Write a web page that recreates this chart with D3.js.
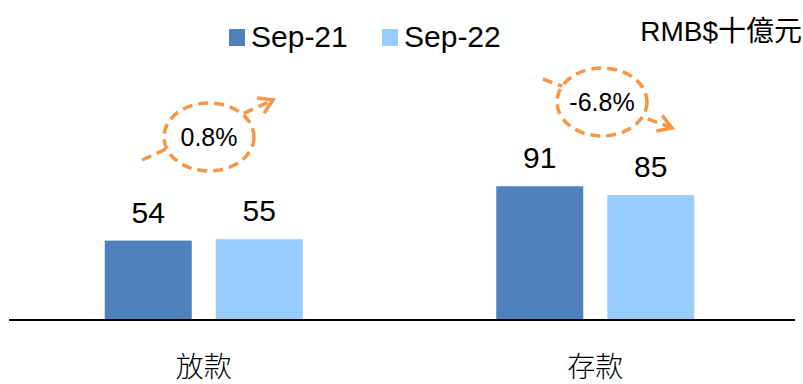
<!DOCTYPE html>
<html><head><meta charset="utf-8">
<script src="https://cdn.jsdelivr.net/npm/d3@7"></script>
<style>body{margin:0;background:#fff}svg{display:block}</style>
</head><body>
<script>
const categories = ["放款", "存款"];
const seriesNames = ["Sep-21", "Sep-22"];
const sep21 = [54, 91];
const sep22 = [55, 85];
const changes = ["0.8%", "-6.8%"];
const unitLabel = "RMB$十億元";

const W = 803, H = 384;
const colors = ["#4F81BD", "#99CCFF"];
const orange = "#F79646";
const svg = d3.select("body").append("svg").attr("width", W).attr("height", H);

const x = d3.scaleBand().domain(categories).range([8, 791]);
const inner = d3.scaleBand().domain(seriesNames).range([0, 198]).paddingInner(0.216);
const y = d3.scaleLinear().domain([0, 100]).range([320, 173]);

const data = categories.map((c, i) => ({cat: c, vals: [sep21[i], sep22[i]]}));
const g = svg.selectAll("g.grp").data(data).enter().append("g")
  .attr("transform", d => `translate(${x(d.cat) + x.bandwidth()/2 - 99},0)`);
g.selectAll("rect").data(d => d.vals.map((v, j) => ({v, s: seriesNames[j], j})))
  .enter().append("rect")
  .attr("x", d => inner(d.s)).attr("width", inner.bandwidth())
  .attr("y", d => y(d.v)).attr("height", d => y(0) - y(d.v))
  .attr("fill", d => colors[d.j]);
g.selectAll("text.val").data(d => d.vals.map((v, j) => ({v, s: seriesNames[j]})))
  .enter().append("text")
  .attr("x", d => inner(d.s) + inner.bandwidth()/2)
  .attr("y", d => y(d.v) - 18)
  .attr("text-anchor", "middle")
  .style("font-family", "Liberation Sans, Arial, sans-serif").style("font-size", "30px")
  .text(d => d.v);

// axis baseline
svg.append("line").attr("x1", 9).attr("x2", 795).attr("y1", 320).attr("y2", 320)
  .attr("stroke", "#000").attr("stroke-width", 2);
const xAxis = d3.axisBottom(x).tickSize(0).tickPadding(0);
const ax = svg.append("g").attr("transform", "translate(0,320)").call(xAxis);
ax.select(".domain").remove();
ax.selectAll("text").attr("y", 57).attr("dy", 0)
  .style("font-family", "Noto Sans CJK TC, sans-serif").style("font-size", "28px").style("font-weight", 300)
  .attr("fill", "#000");

// legend
const legX = [229, 382];
seriesNames.forEach((s, i) => {
  svg.append("rect").attr("x", legX[i]).attr("y", 29).attr("width", 16).attr("height", 17).attr("fill", colors[i]);
  svg.append("text").attr("x", legX[i] + 22).attr("y", 47)
    .style("font-family", "Liberation Sans, Arial, sans-serif").style("font-size", "30px").text(s);
});
svg.append("text").attr("x", 802).attr("y", 41).attr("text-anchor", "end")
  .style("font-family", "Liberation Sans, Noto Sans CJK TC, sans-serif").style("font-size", "28px").text(unitLabel);

// change annotations
const annots = [
  {cx: 209, cy: 137, rx: 45, ry: 34, x1: 142, y1: 160, x2: 273, y2: 100, t: changes[0]},
  {cx: 602, cy: 102, rx: 45, ry: 34, x1: 543, y1: 79, x2: 672, y2: 128, t: changes[1]}
];
annots.forEach(a => {
  const ag = svg.append("g");
  ag.append("line").attr("x1", a.x1).attr("y1", a.y1).attr("x2", a.x2).attr("y2", a.y2)
    .attr("stroke", orange).attr("stroke-width", 3.5).attr("stroke-dasharray", "10,6");
  const ang = Math.atan2(a.y2 - a.y1, a.x2 - a.x1);
  const L = 16, sp = 0.55;
  const p = [
    [a.x2 - L*Math.cos(ang - sp), a.y2 - L*Math.sin(ang - sp)],
    [a.x2, a.y2],
    [a.x2 - L*Math.cos(ang + sp), a.y2 - L*Math.sin(ang + sp)]
  ];
  ag.append("path").attr("d", d3.line()(p)).attr("fill", "none")
    .attr("stroke", orange).attr("stroke-width", 3.5).attr("stroke-linejoin", "miter");
  ag.append("ellipse").attr("cx", a.cx).attr("cy", a.cy).attr("rx", a.rx).attr("ry", a.ry)
    .attr("fill", "#fff").attr("stroke", orange).attr("stroke-width", 3.5).attr("stroke-dasharray", "10,6");
  ag.append("text").attr("x", a.cx).attr("y", a.cy + 9).attr("text-anchor", "middle")
    .style("font-family", "Liberation Sans, Arial, sans-serif").style("font-size", "25px").text(a.t);
});
</script>
</body></html>
